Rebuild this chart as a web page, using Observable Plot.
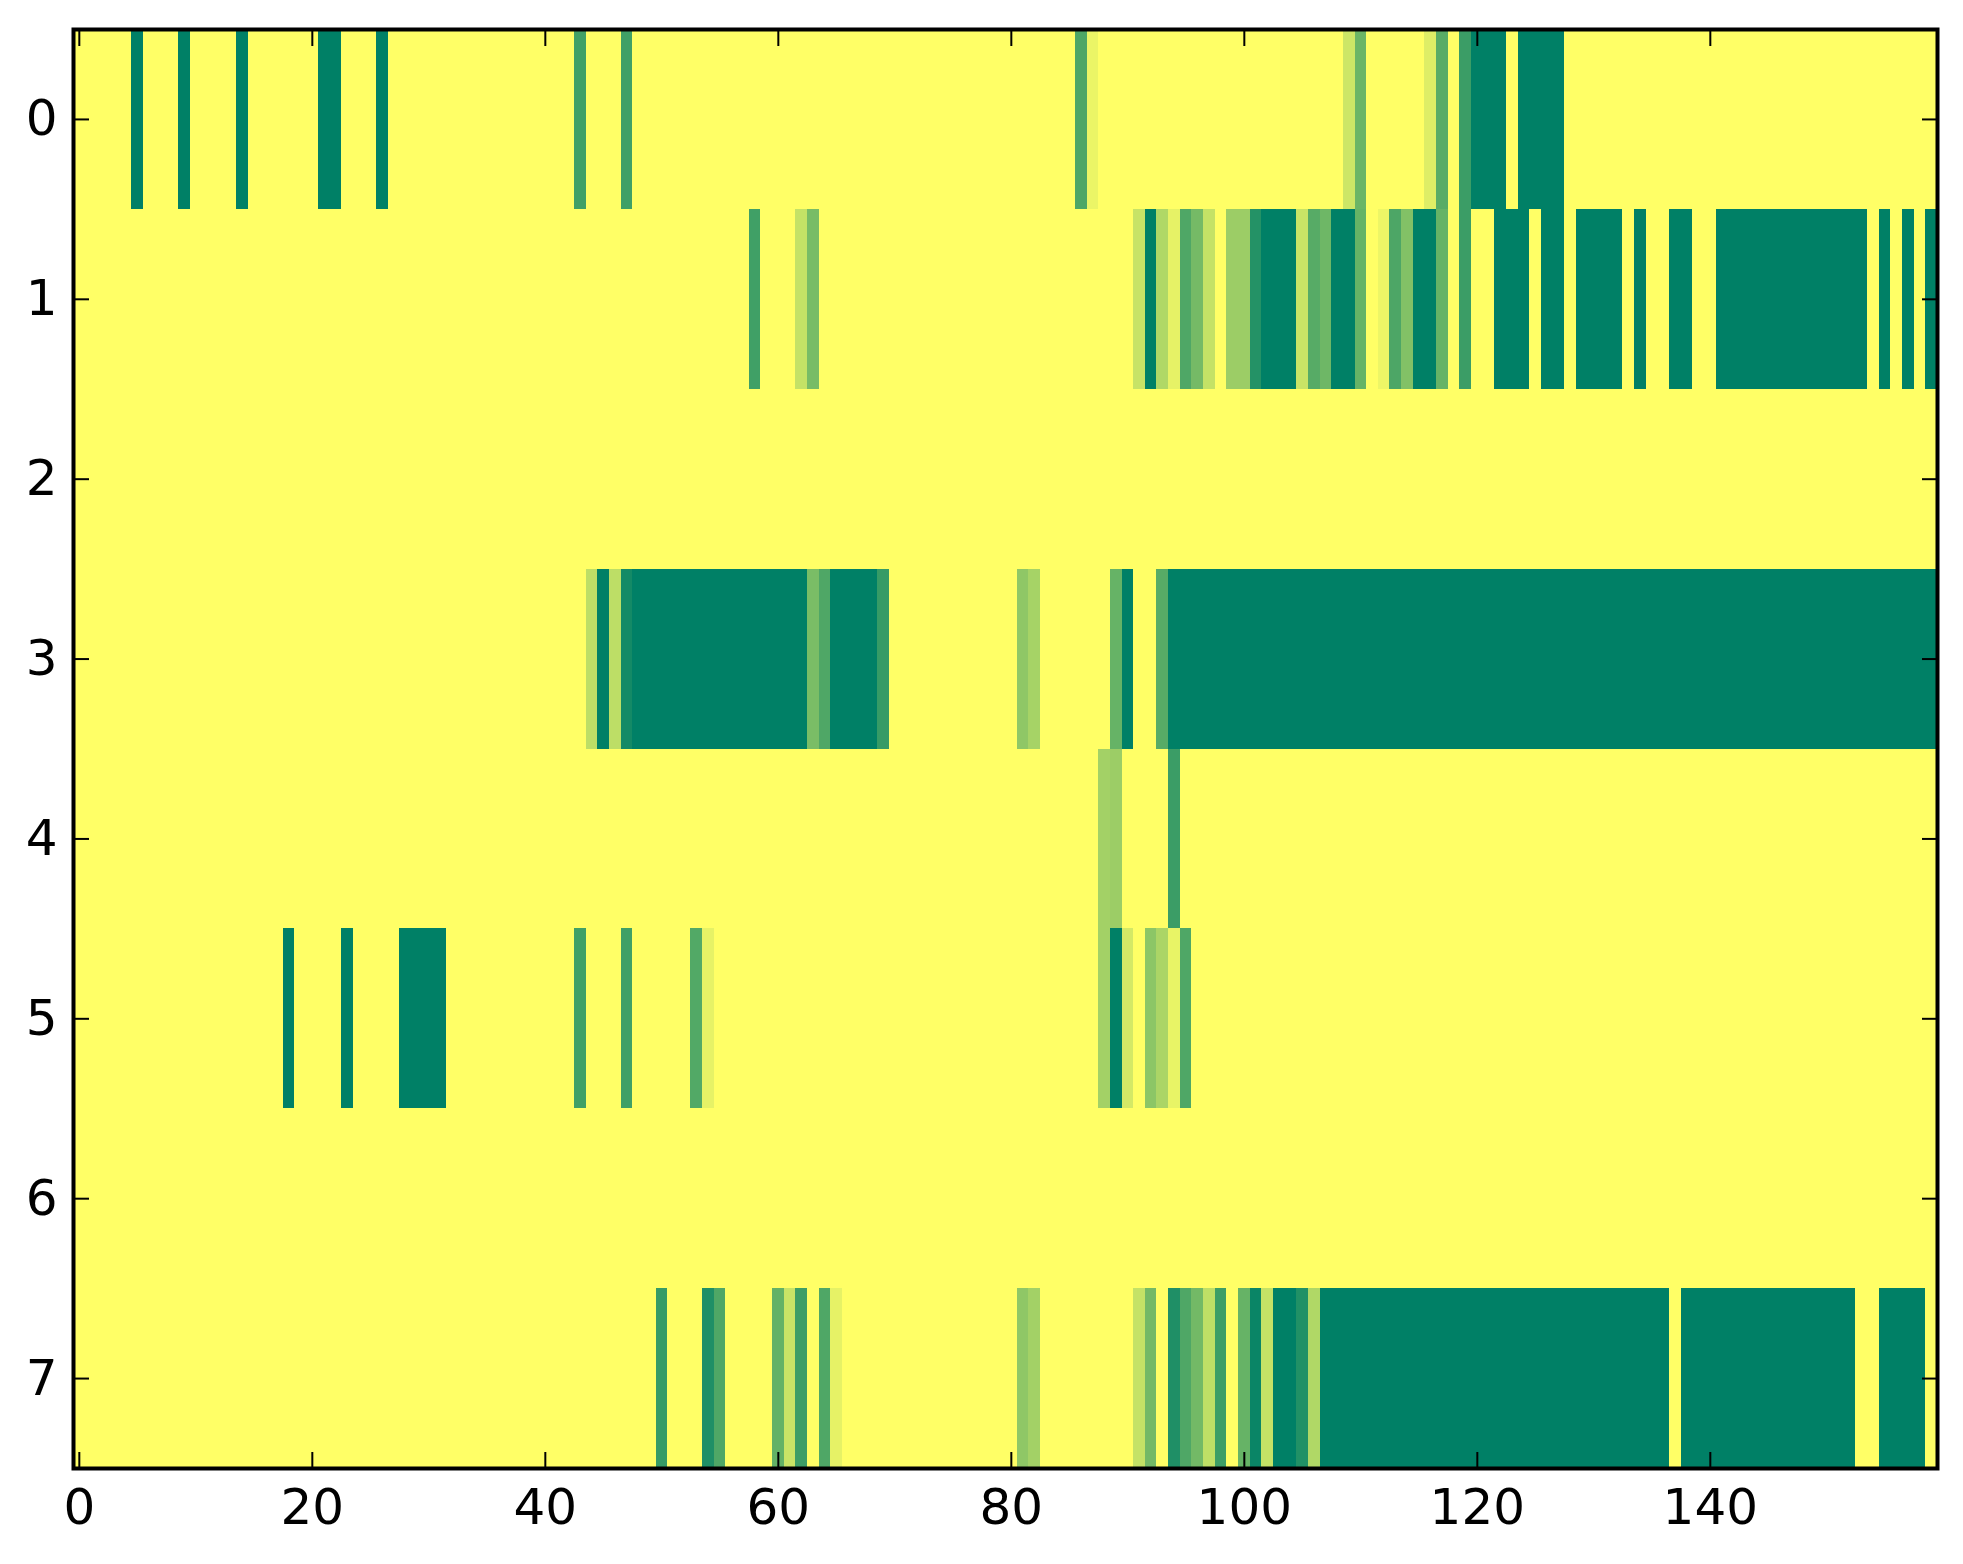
<!DOCTYPE html>
<html><head><meta charset="utf-8">
<script src="https://cdn.jsdelivr.net/npm/d3@7"></script>
<script src="https://cdn.jsdelivr.net/npm/@observablehq/plot@0.6"></script>
<style>body{margin:0;background:#fff}</style>
</head><body><div id="chart"></div>
<script>
// each row: 160 cell values (0 = yellow, 1 = dark green), columns 0..159
const row0 = [
  0,0,0,0,0,1,0,0,0,1, 0,0,0,0,1,0,0,0,0,0, 0,1,1,0,0,0,1,0,0,0, 0,0,0,0,0,0,0,0,0,0,
  0,0,0,0.75,0,0,0,0.75,0,0, 0,0,0,0,0,0,0,0,0,0, 0,0,0,0,0,0,0,0,0,0, 0,0,0,0,0,0,0,0,0,0,
  0,0,0,0,0,0,0.7,0.08,0,0, 0,0,0,0,0,0,0,0,0,0, 0,0,0,0,0,0,0,0,0,0.2, 0.58,0,0,0,0,0,0.13,0.65,0,0.77,
  1,1,1,0,1,1,1,1,0,0, 0,0,0,0,0,0,0,0,0,0, 0,0,0,0,0,0,0,0,0,0, 0,0,0,0,0,0,0,0,0,0
];
const row1 = [
  0,0,0,0,0,0,0,0,0,0, 0,0,0,0,0,0,0,0,0,0, 0,0,0,0,0,0,0,0,0,0, 0,0,0,0,0,0,0,0,0,0,
  0,0,0,0,0,0,0,0,0,0, 0,0,0,0,0,0,0,0,0.75,0, 0,0,0.23,0.53,0,0,0,0,0,0, 0,0,0,0,0,0,0,0,0,0,
  0,0,0,0,0,0,0,0,0,0, 0,0.22,1,0.31,0.1,0.69,0.54,0.23,0,0.39, 0.39,0.86,1,1,1,0.21,0.66,0.57,1,1, 0.6,0,0.07,0.7,0.49,1,1,0.6,0,0.77,
  0,0,1,1,1,0,1,1,0,1, 1,1,1,0,1,0,0,1,1,0, 0,1,1,1,1,1,1,1,1,1, 1,1,1,1,0,1,0,1,0,1
];
const row2 = [
  0,0,0,0,0,0,0,0,0,0, 0,0,0,0,0,0,0,0,0,0, 0,0,0,0,0,0,0,0,0,0, 0,0,0,0,0,0,0,0,0,0,
  0,0,0,0,0,0,0,0,0,0, 0,0,0,0,0,0,0,0,0,0, 0,0,0,0,0,0,0,0,0,0, 0,0,0,0,0,0,0,0,0,0,
  0,0,0,0,0,0,0,0,0,0, 0,0,0,0,0,0,0,0,0,0, 0,0,0,0,0,0,0,0,0,0, 0,0,0,0,0,0,0,0,0,0,
  0,0,0,0,0,0,0,0,0,0, 0,0,0,0,0,0,0,0,0,0, 0,0,0,0,0,0,0,0,0,0, 0,0,0,0,0,0,0,0,0,0
];
const row3 = [
  0,0,0,0,0,0,0,0,0,0, 0,0,0,0,0,0,0,0,0,0, 0,0,0,0,0,0,0,0,0,0, 0,0,0,0,0,0,0,0,0,0,
  0,0,0,0,0.26,1,0.26,0.92,1,1, 1,1,1,1,1,1,1,1,1,1, 1,1,1,0.52,0.69,1,1,1,1,0.79, 0,0,0,0,0,0,0,0,0,0,
  0,0.44,0.35,0,0,0,0,0,0,0.6, 1,0,0,0.66,1,1,1,1,1,1, 1,1,1,1,1,1,1,1,1,1, 1,1,1,1,1,1,1,1,1,1,
  1,1,1,1,1,1,1,1,1,1, 1,1,1,1,1,1,1,1,1,1, 1,1,1,1,1,1,1,1,1,1, 1,1,1,1,1,1,1,1,1,1
];
const row4 = [
  0,0,0,0,0,0,0,0,0,0, 0,0,0,0,0,0,0,0,0,0, 0,0,0,0,0,0,0,0,0,0, 0,0,0,0,0,0,0,0,0,0,
  0,0,0,0,0,0,0,0,0,0, 0,0,0,0,0,0,0,0,0,0, 0,0,0,0,0,0,0,0,0,0, 0,0,0,0,0,0,0,0,0,0,
  0,0,0,0,0,0,0,0,0.36,0.39, 0,0,0,0,0.77,0,0,0,0,0, 0,0,0,0,0,0,0,0,0,0, 0,0,0,0,0,0,0,0,0,0,
  0,0,0,0,0,0,0,0,0,0, 0,0,0,0,0,0,0,0,0,0, 0,0,0,0,0,0,0,0,0,0, 0,0,0,0,0,0,0,0,0,0
];
const row5 = [
  0,0,0,0,0,0,0,0,0,0, 0,0,0,0,0,0,0,0,1,0, 0,0,0,1,0,0,0,0,1,1, 1,1,0,0,0,0,0,0,0,0,
  0,0,0,0.75,0,0,0,0.75,0,0, 0,0,0,0.68,0.1,0,0,0,0,0, 0,0,0,0,0,0,0,0,0,0, 0,0,0,0,0,0,0,0,0,0,
  0,0,0,0,0,0,0,0,0.36,1, 0.17,0,0.45,0.33,0.09,0.69,0,0,0,0, 0,0,0,0,0,0,0,0,0,0, 0,0,0,0,0,0,0,0,0,0,
  0,0,0,0,0,0,0,0,0,0, 0,0,0,0,0,0,0,0,0,0, 0,0,0,0,0,0,0,0,0,0, 0,0,0,0,0,0,0,0,0,0
];
const row6 = [
  0,0,0,0,0,0,0,0,0,0, 0,0,0,0,0,0,0,0,0,0, 0,0,0,0,0,0,0,0,0,0, 0,0,0,0,0,0,0,0,0,0,
  0,0,0,0,0,0,0,0,0,0, 0,0,0,0,0,0,0,0,0,0, 0,0,0,0,0,0,0,0,0,0, 0,0,0,0,0,0,0,0,0,0,
  0,0,0,0,0,0,0,0,0,0, 0,0,0,0,0,0,0,0,0,0, 0,0,0,0,0,0,0,0,0,0, 0,0,0,0,0,0,0,0,0,0,
  0,0,0,0,0,0,0,0,0,0, 0,0,0,0,0,0,0,0,0,0, 0,0,0,0,0,0,0,0,0,0, 0,0,0,0,0,0,0,0,0,0
];
const row7 = [
  0,0,0,0,0,0,0,0,0,0, 0,0,0,0,0,0,0,0,0,0, 0,0,0,0,0,0,0,0,0,0, 0,0,0,0,0,0,0,0,0,0,
  0,0,0,0,0,0,0,0,0,0, 0.79,0,0,0,0.88,0.69,0,0,0,0, 0.61,0.21,0.76,0,0.69,0.1,0,0,0,0, 0,0,0,0,0,0,0,0,0,0,
  0,0.44,0.36,0,0,0,0,0,0,0, 0,0.23,0.55,0,0.88,0.69,0.55,0.25,0.76,0, 0.6,0.96,0.23,1,1,0.87,0.31,1,1,1, 1,1,1,1,1,1,1,1,1,1,
  1,1,1,1,1,1,1,1,1,1, 1,1,1,1,1,1,1,0,1,1, 1,1,1,1,1,1,1,1,1,1, 1,1,1,0,0,1,1,1,1,0
];

const rowTicks = [0, 1, 2, 3, 4, 5, 6, 7];
const colTicks = [0, 20, 40, 60, 80, 100, 120, 140];

const rows = [row0, row1, row2, row3, row4, row5, row6, row7];
const cells = rows.flatMap((r, i) => r.map((v, j) => ({row: i, col: j, v})));

const chart = Plot.plot({
  width: 1963,
  height: 1564,
  marginLeft: 73,
  marginRight: 26,
  marginTop: 29,
  marginBottom: 96,
  style: {fontFamily: "DejaVu Sans", fontSize: "50px", background: "white", color: "black"},
  x: {domain: [-0.5, 159.5]},
  y: {domain: [-0.5, 7.5], reverse: true},
  color: {type: "linear", domain: [0, 1], range: ["#ffff66", "#008066"], interpolate: "rgb"},
  marks: [
    Plot.rect(cells, {
      x1: d => d.col - 0.5, x2: d => d.col + 0.5,
      y1: d => d.row - 0.5, y2: d => d.row + 0.5,
      fill: "v", shapeRendering: "crispEdges"
    }),
    Plot.frame({stroke: "black", strokeWidth: 4}),
    Plot.axisX(colTicks, {anchor: "bottom", tickSize: -16, tickPadding: 36, strokeWidth: 2, tickFormat: d3.format("d"), label: null}),
    Plot.axisX(colTicks, {anchor: "top", tickSize: -16, tickFormat: () => "", strokeWidth: 2, label: null}),
    Plot.axisY(rowTicks, {anchor: "left", tickSize: -16, tickPadding: 32, strokeWidth: 2, tickFormat: d3.format("d"), label: null}),
    Plot.axisY(rowTicks, {anchor: "right", tickSize: -16, tickFormat: () => "", strokeWidth: 2, label: null})
  ]
});
document.getElementById("chart").appendChild(chart);
</script>
</body></html>
